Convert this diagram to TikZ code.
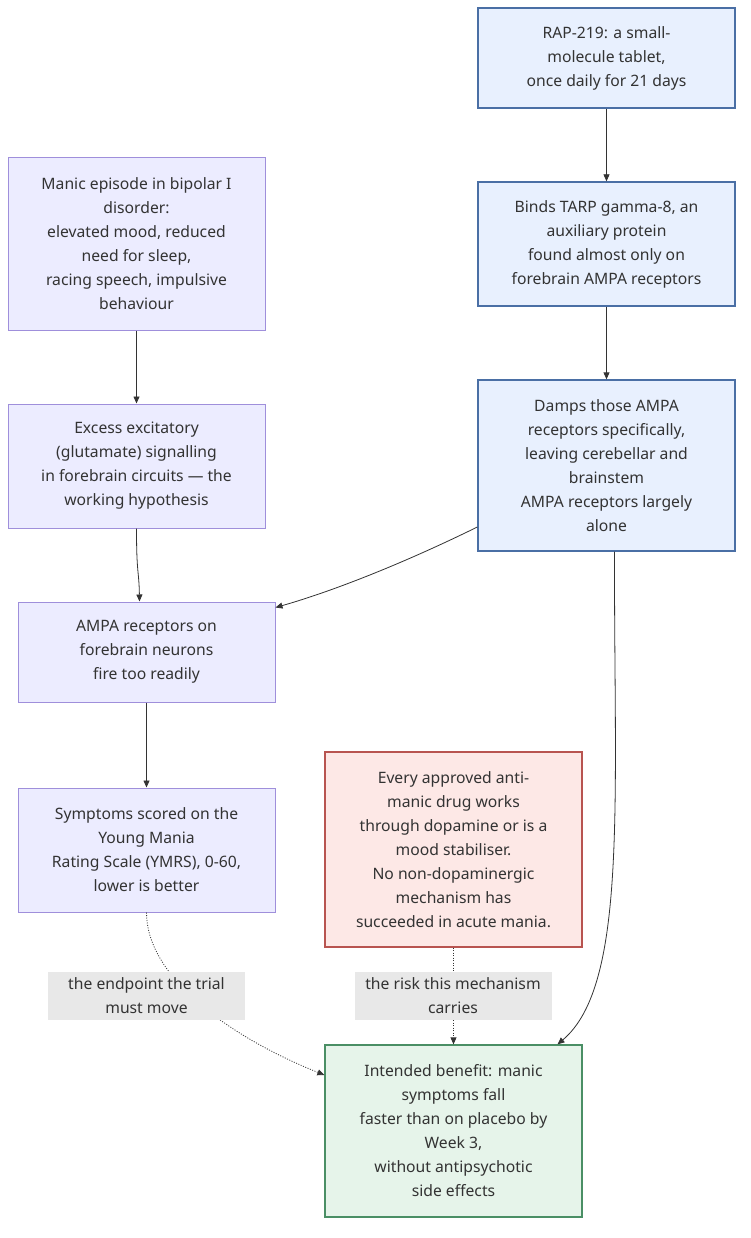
\documentclass[tikz,border=0pt]{standalone}
\usepackage{fontspec}
\setmainfont{Noto Sans}
\usetikzlibrary{arrows.meta}
\definecolor{txt}{HTML}{333333}
\definecolor{bluefill}{HTML}{E8F0FE}
\definecolor{bluedraw}{HTML}{4A6FA5}
\definecolor{lavfill}{HTML}{ECECFF}
\definecolor{lavdraw}{HTML}{9F8FDB}
\definecolor{redfill}{HTML}{FDE8E6}
\definecolor{reddraw}{HTML}{B85450}
\definecolor{greenfill}{HTML}{E6F4EA}
\definecolor{greendraw}{HTML}{4A8F65}
\definecolor{lblfill}{HTML}{E8E8E8}
\definecolor{edgecol}{HTML}{333333}
\tikzset{
  box/.style={rectangle, minimum width=257pt, inner sep=0pt, align=center, text=txt,
    font=\fontsize{15.7}{24}\selectfont},
  bluebox/.style={box, fill=bluefill, draw=bluedraw, line width=1.3pt},
  lavbox/.style={box, fill=lavfill, draw=lavdraw, line width=1pt},
  redbox/.style={box, fill=redfill, draw=reddraw, line width=1.3pt},
  greenbox/.style={box, fill=greenfill, draw=greendraw, line width=1.3pt},
  lbl/.style={rectangle, fill=lblfill, minimum width=197pt, minimum height=48pt, inner sep=0pt,
    align=center, text=txt, font=\fontsize{15.7}{24}\selectfont},
  arr/.style={draw=edgecol, line width=0.8pt, -{Triangle[length=7pt,width=6pt]}},
  dotarr/.style={arr, dash pattern=on 1pt off 1.5pt},
}
\begin{document}
\begin{tikzpicture}[x=1pt,y=-1pt]
\useasboundingbox (0,0) rectangle (751,1238);
% right column
\node[bluebox, minimum height=100pt] (r1) at (606.5,58) {RAP-219: a small-\\molecule tablet,\\once daily for 21 days};
\node[bluebox, minimum height=124pt] (r2) at (606.5,244) {Binds TARP gamma-8, an\\auxiliary protein\\found almost only on\\forebrain AMPA receptors};
\node[bluebox, minimum height=171pt] (r3) at (606.5,465.5) {Damps those AMPA\\receptors specifically,\\leaving cerebellar and\\brainstem\\AMPA receptors largely\\alone};
% left column
\node[lavbox, minimum height=172pt] (l1) at (136.5,244) {Manic episode in bipolar I\\disorder:\\elevated mood, reduced\\need for sleep,\\racing speech, impulsive\\behaviour};
\node[lavbox, minimum height=124pt] (l2) at (136.5,466) {Excess excitatory\\(glutamate) signalling\\in forebrain circuits — the\\working hypothesis};
\node[lavbox, minimum height=100pt] (a) at (146.5,652) {AMPA receptors on\\forebrain neurons\\fire too readily};
\node[lavbox, minimum height=124pt] (s) at (146.5,850) {Symptoms scored on the\\Young Mania\\Rating Scale (YMRS), 0-60,\\lower is better};
% red and green
\node[redbox, minimum height=195pt] (risk) at (453.5,849.5) {Every approved anti-\\manic drug works\\through dopamine or is a\\mood stabiliser.\\No non-dopaminergic\\mechanism has\\succeeded in acute mania.};
\node[greenbox, minimum height=172pt] (g) at (453.5,1131) {Intended benefit: manic\\symptoms fall\\faster than on placebo by\\Week 3,\\without antipsychotic\\side effects};
% edges
\draw[arr] (r1.south) -- (r2.north);
\draw[arr] (r2.south) -- (r3.north);
\draw[arr] (l1.south) -- (l2.north);
\draw[arr] (l2.south) .. controls (136.5,575) and (139,570) .. ([xshift=3pt]l2.south |- a.north);
\draw[arr] ([yshift=-61.5pt]r3.west) .. controls (400,565) and (330,592) .. ([yshift=-6pt]a.north east);
\draw[arr] (a.south) -- (s.north);
\draw[arr] ([xshift=8pt]r3.south) .. controls (614,800) and (628,985) .. ([xshift=104pt]g.north);
\draw[dotarr] (s.south) .. controls (146.5,975) and (225,1035) .. ([yshift=56pt]g.west);
\draw[dotarr] (risk.south) -- (g.north);
% labels
\node[lbl] (lb1) at (146.5,996) {the endpoint the trial\\must move};
\node[lbl] (lb2) at (453,996) {the risk this mechanism\\carries};
\end{tikzpicture}
\end{document}
